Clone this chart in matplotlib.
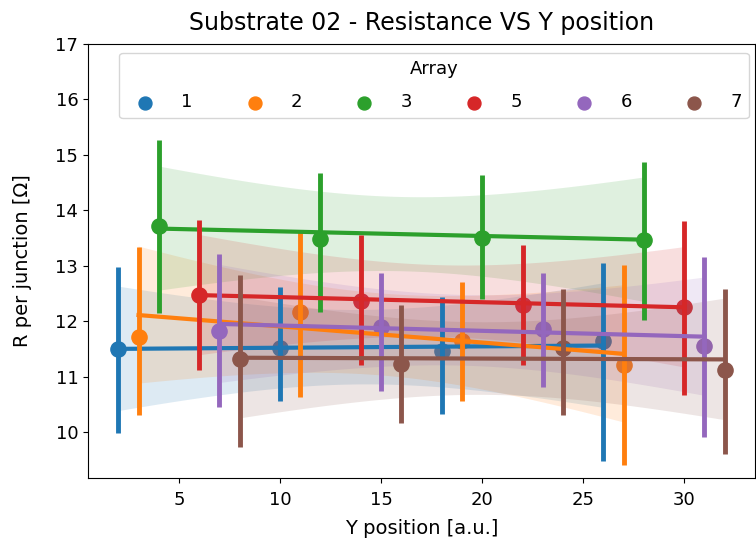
import numpy as np
import matplotlib
matplotlib.use("Agg")
import matplotlib.pyplot as plt

# arrays and their Y positions
arrays = ['1', '2', '3', '5', '6', '7']
colors = ['#1f77b4', '#ff7f0e', '#2ca02c', '#d62728', '#9467bd', '#8c564b']

ypos = {
    '1': [2, 10, 18, 26],
    '2': [3, 11, 19, 27],
    '3': [4, 12, 20, 28],
    '5': [6, 14, 22, 30],
    '6': [7, 15, 23, 31],
    '7': [8, 16, 24, 32],
}

# mean R per junction at each position
r_mean = {
    '1': [11.50, 11.51, 11.47, 11.65],
    '2': [11.71, 12.17, 11.65, 11.20],
    '3': [13.72, 13.48, 13.50, 13.47],
    '5': [12.47, 12.37, 12.29, 12.25],
    '6': [11.83, 11.89, 11.86, 11.56],
    '7': [11.32, 11.22, 11.51, 11.11],
}
# confidence interval of the mean
r_lo = {
    '1': [9.98, 10.56, 10.32, 9.48],
    '2': [10.30, 10.63, 10.56, 9.40],
    '3': [12.14, 12.17, 12.40, 12.02],
    '5': [11.11, 11.21, 11.21, 10.66],
    '6': [10.45, 10.74, 10.81, 9.91],
    '7': [9.73, 10.16, 10.30, 9.61],
}
r_hi = {
    '1': [12.98, 12.62, 12.44, 13.05],
    '2': [13.34, 13.65, 12.71, 13.02],
    '3': [15.27, 14.67, 14.63, 14.88],
    '5': [13.83, 13.56, 13.37, 13.81],
    '6': [13.22, 12.87, 12.86, 13.16],
    '7': [12.83, 12.29, 12.58, 12.58],
}
# regression line at first / last position
fit_start = {'1': 11.50, '2': 12.11, '3': 13.67, '5': 12.47, '6': 11.95, '7': 11.34}
fit_end = {'1': 11.56, '2': 11.41, '3': 13.47, '5': 12.25, '6': 11.72, '7': 11.31}

fig = plt.figure(figsize=(7.56, 5.4), dpi=100)
ax = fig.add_axes([0.1164, 0.1148, 0.8823, 0.8037])

for a, c in zip(arrays, colors):
    x = np.array(ypos[a], dtype=float)
    m = np.array(r_mean[a])
    lo = np.array(r_lo[a])
    hi = np.array(r_hi[a])

    ax.scatter(x, m, s=120, color=c, label=a, zorder=1)
    for xi, l, h in zip(x, lo, hi):
        ax.plot([xi, xi], [l, h], color=c, lw=3.5, solid_capstyle='butt')

    # regression line with its confidence band
    grid = np.linspace(x[0], x[-1], 100)
    yfit = np.interp(grid, [x[0], x[-1]], [fit_start[a], fit_end[a]])
    ebar = np.mean((hi - lo) / 2)
    sxx = np.sum((x - x.mean()) ** 2)
    hw = ebar * np.sqrt(1 / len(x) + (grid - x.mean()) ** 2 / sxx)
    ax.plot(grid, yfit, color=c, lw=3)
    ax.fill_between(grid, yfit - hw, yfit + hw, facecolor=c, alpha=0.15)

ax.set_xlim(0.5, 33.5)
ax.set_ylim(9.17, 17)
ax.set_yticks(range(10, 18))
ax.tick_params(labelsize=13)
ax.tick_params(axis='x', pad=6)
ax.set_xlabel('Y position [a.u.]', fontsize=14, labelpad=7)
ax.set_ylabel('R per junction [Ω]', fontsize=14, labelpad=17)
ax.set_title('Substrate 02 - Resistance VS Y position', fontsize=17, pad=10)

ax.legend(title='Array', ncol=6, loc='upper center', bbox_to_anchor=(0.519, 0.98),
          fontsize=13, title_fontsize=13, columnspacing=2.45, handletextpad=1.0,
          labelspacing=0.85, borderaxespad=0, markerscale=0.85)

fig.savefig('out.png', dpi=100)
